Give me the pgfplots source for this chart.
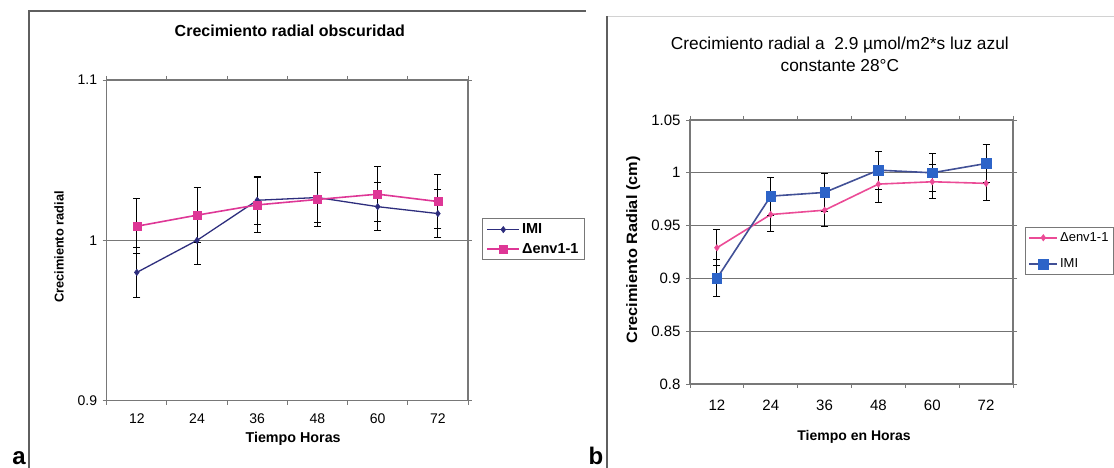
\documentclass[border=0pt]{standalone}
\usepackage{fontspec}
\setmainfont{Liberation Sans}
\usepackage{pgfplots}
\pgfplotsset{compat=1.18}
\usepackage{pgfplotstable}

\definecolor{navyA}{RGB}{45,45,125}
\definecolor{magA}{RGB}{222,55,150}
\definecolor{pinkB}{RGB}{235,75,150}
\definecolor{blueLineB}{RGB}{65,80,150}
\definecolor{blueMarkB}{RGB}{45,100,200}
\definecolor{frameGray}{RGB}{95,95,95}
\definecolor{axGray}{RGB}{120,120,120}

% panel a
\pgfplotstableread{
x y e
0 0.9800 0.0155
1 1.0000 0.0150
2 1.0250 0.0150
3 1.0267 0.0155
4 1.0210 0.0150
5 1.0167 0.0150
}\aIMI
\pgfplotstableread{
x y e
0 1.0088 0.0170
1 1.0157 0.0170
2 1.0221 0.0170
3 1.0255 0.0167
4 1.0288 0.0170
5 1.0242 0.0170
}\aENV
% panel b
\pgfplotstableread{
x y e
0 0.9290 0.0170
1 0.9605 0.0160
2 0.9646 0.0157
3 0.9893 0.0170
4 0.9915 0.0160
5 0.9900 0.0160
}\bENV
\pgfplotstableread{
x y e
0 0.9000 0.0175
1 0.9779 0.0180
2 0.9814 0.0180
3 1.0025 0.0180
4 1.0000 0.0180
5 1.0088 0.0180
}\bIMI

\pgfplotsset{
  excelstyle/.style={
    scale only axis,
    xmin=-0.5, xmax=5.5,
    xtick={0,...,5}, xticklabels={12,24,36,48,60,72},
    major x tick style={draw=none},
    minor xtick={-0.5,0.5,1.5,2.5,3.5,4.5,5.5},
    tick align=outside,
    major tick length=4pt, minor tick length=4pt,
    axis line style={axGray, line width=1.1pt},
    tick style={axGray, line width=0.9pt},
    /pgf/number format/assume math mode=true,
    ymajorgrids,
    legend cell align=left,
    clip=false,
  },
  ebar/.style={error bars/.cd, y dir=both, y explicit,
    error bar style={black, line width=1pt},
    error mark options={rotate=90, black, mark size=3.5pt, line width=1pt}},
}

\begin{document}
\begin{tikzpicture}[x=1pt,y=1pt]
\useasboundingbox (0,0) rectangle (1114,468);
% frames
\draw[frameGray, line width=1.3pt] (29,0) -- (29,457) -- (586,457);
\draw[gray!35, line width=0.8pt] (607,452) -- (1114,452);
\draw[frameGray, line width=1.3pt] (607,0) -- (607,452);

% panel a
\begin{axis}[excelstyle,
  at={(106.7pt,67.3pt)}, anchor=south west,
  width=361.3pt, height=320.7pt,
  ymin=0.9, ymax=1.1,
  ytick={0.9,1,1.1}, yticklabels={0.9,1,1.1},
  grid style={axGray, line width=0.9pt},
  ticklabel style={font=\fontsize{14}{16}\selectfont},
  xticklabel style={yshift=-5pt},
  yticklabel style={xshift=-2pt},
  title={\textbf{Crecimiento radial obscuridad}},
  title style={font=\fontsize{16}{19}\selectfont, at={(axis description cs:0.507,1.134)}, anchor=center},
  xlabel={\textbf{Tiempo Horas}},
  xlabel style={font=\fontsize{14.3}{16}\selectfont, at={(axis description cs:0.516,-0.119)}, anchor=center},
  ylabel={\textbf{Crecimiento radial}},
  ylabel style={font=\fontsize{12.8}{15}\selectfont, at={(axis description cs:-0.132,0.479)}, anchor=center},
  legend image code/.code={\draw[mark repeat=2,mark phase=2] plot coordinates {(0pt,0pt) (16pt,0pt) (32pt,0pt)};},
  legend style={at={(1,0.5)}, anchor=west, xshift=14pt, yshift=1pt,
    draw=axGray, line width=1pt, font=\bfseries\fontsize{14.5}{16}\selectfont,
    inner xsep=4pt, inner ysep=3pt, row sep=4pt, /tikz/every even column/.append style={column sep=1pt}},
]
\addplot[navyA, line width=1.3pt, mark=diamond*, mark size=3.2pt, mark options={fill=navyA, line width=0.5pt}, ebar]
  table[x=x, y=y, y error=e] {\aIMI};
\addlegendentry{IMI}
\addplot[magA, line width=1.6pt, mark=square*, mark size=4pt, mark options={fill=magA, line width=0.5pt}, ebar]
  table[x=x, y=y, y error=e] {\aENV};
\addlegendentry{Δenv1-1}
\end{axis}

% panel b
\begin{axis}[excelstyle,
  at={(690pt,84pt)}, anchor=south west,
  width=323pt, height=264pt,
  ymin=0.8, ymax=1.05,
  ytick={0.8,0.85,0.9,0.95,1,1.05}, yticklabels={0.8,0.85,0.9,0.95,1,1.05},
  grid style={black!55, line width=1.1pt},
  ticklabel style={font=\fontsize{15}{17}\selectfont},
  xticklabel style={yshift=-8pt},
  yticklabel style={xshift=-2pt},
  title={Crecimiento radial a\ \ 2.9 µmol/m2*s luz azul\\constante 28°C},
  title style={font=\fontsize{17.3}{22}\selectfont, align=center, at={(axis description cs:0.464,1.227)}, anchor=center},
  xlabel={\textbf{Tiempo en Horas}},
  xlabel style={font=\fontsize{14}{16}\selectfont, at={(axis description cs:0.508,-0.201)}, anchor=center},
  ylabel={\textbf{Crecimiento Radial (cm)}},
  ylabel style={font=\fontsize{15}{17}\selectfont, at={(axis description cs:-0.176,0.508)}, anchor=center, xscale=1.09},
  legend image code/.code={\draw[mark repeat=2,mark phase=2] plot coordinates {(0pt,0pt) (14pt,0pt) (28pt,0pt)};},
  legend style={at={(1,0.5)}, anchor=west, xshift=12pt, yshift=1pt,
    draw=axGray, line width=1pt, font=\fontsize{13}{15}\selectfont,
    inner sep=3pt, row sep=12pt, /tikz/every even column/.append style={column sep=1pt}},
]
\addplot[pinkB, line width=1.6pt, mark=diamond*, mark size=3.2pt, mark options={fill=pinkB, line width=0.5pt}, ebar]
  table[x=x, y=y, y error=e] {\bENV};
\addlegendentry{Δenv1-1}
\addplot[blueLineB, line width=1.6pt, mark=square*, mark size=4.8pt, mark options={fill=blueMarkB, draw=blueMarkB, line width=0.5pt}, ebar]
  table[x=x, y=y, y error=e] {\bIMI};
\addlegendentry{IMI}
\end{axis}

% panel letters
\node[font=\bfseries\fontsize{24}{26}\selectfont, anchor=south, inner sep=0pt] at (19,3) {a};
\node[font=\bfseries\fontsize{24}{26}\selectfont, anchor=south, inner sep=0pt] at (596,3) {b};
\end{tikzpicture}
\end{document}
